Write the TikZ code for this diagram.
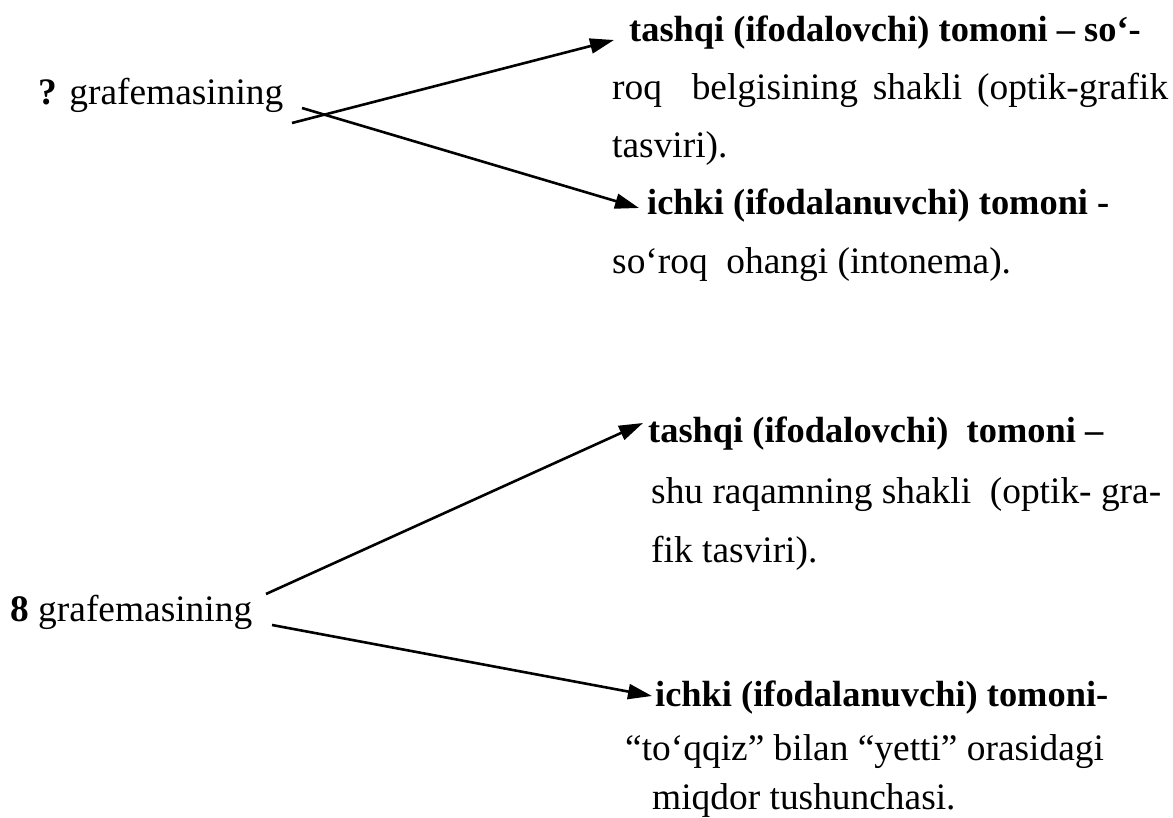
\documentclass[tikz,border=0pt]{standalone}
\usepackage{fontspec}
\setmainfont{LiberationSerif}[Extension=.ttf,UprightFont=*-Regular,BoldFont=*-Bold,ItalicFont=*-Italic,BoldItalicFont=*-BoldItalic]
\usetikzlibrary{arrows.meta}
\begin{document}
\begin{tikzpicture}[x=1pt,y=-1pt,
  txt/.style={anchor=base west,inner sep=0pt,font=\fontsize{37.4}{44}\selectfont},
  btxt/.style={anchor=base west,inner sep=0pt,font=\fontsize{36.4}{44}\selectfont\bfseries},
  conn/.style={line width=2.6pt,-{Triangle[length=24pt,width=15pt]}}]
\useasboundingbox (0,0) rectangle (1173,818);
% top block
\node[txt] (q) at (38,105) {\textbf{?} grafemasining};
\node[btxt] (t1) at (629,42) {tashqi (ifodalovchi) tomoni – so‘-};
\node[txt] (t2) at (612,100) {\makebox[556pt][s]{roq\ \ belgisining shakli (optik-grafik}};
\node[txt] (t3) at (612,158) {tasviri).};
\node[btxt] (i1) at (647,215) {ichki (ifodalanuvchi) tomoni -};
\node[txt] (i2) at (612,274) {so‘roq\ \ ohangi (intonema).};
\coordinate (qa) at (292,123);
\coordinate (qb) at (302,108);
\coordinate (ta) at (614,40);
\coordinate (tb) at (639,208);
\draw[conn] (qa) -- (ta);
\draw[conn] (qb) -- (tb);
% bottom block
\node[txt] (e) at (10,621) {\textbf{8} grafemasining};
\node[btxt] (u1) at (648,442) {tashqi (ifodalovchi)\ \ tomoni –};
\node[txt] (u2) at (651,503) {shu raqamning shakli\ \ (optik- gra-};
\node[txt] (u3) at (651,562) {fik tasviri).};
\node[btxt] (v1) at (655,706) {ichki (ifodalanuvchi) tomoni-};
\node[txt] (v2) at (625,760) {“to‘qqiz” bilan “yetti” orasidagi};
\node[txt] (v3) at (652,809) {miqdor tushunchasi.};
\coordinate (ea) at (266,594);
\coordinate (eb) at (272,625);
\coordinate (ua) at (643,423);
\coordinate (vb) at (652,696);
\draw[conn] (ea) -- (ua);
\draw[conn] (eb) -- (vb);
\end{tikzpicture}
\end{document}
